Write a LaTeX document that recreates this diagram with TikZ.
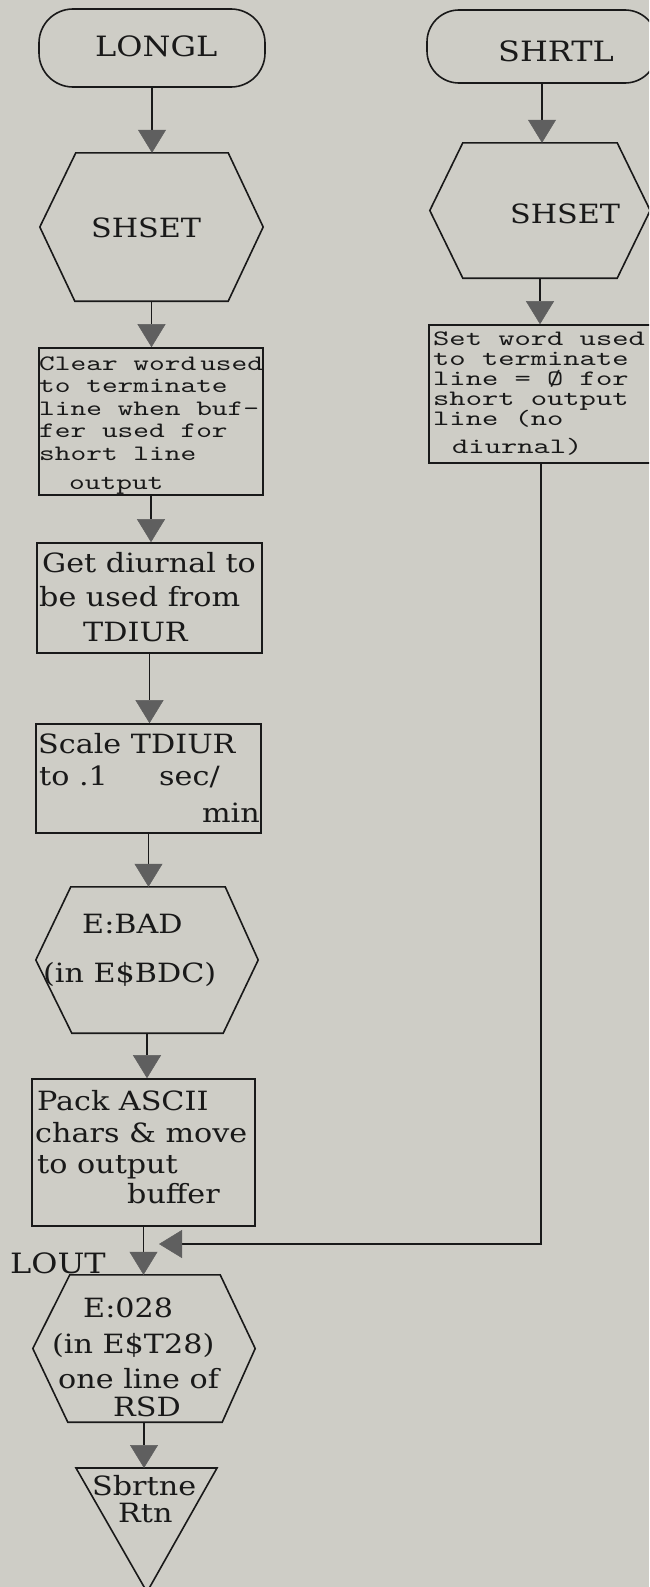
\documentclass[tikz,border=0pt]{standalone}
\usepackage{fontspec}
\usetikzlibrary{arrows.meta,calc}
\newfontfamily\serA[FakeStretch=1.14]{DejaVu Serif}
\newfontfamily\monA[FakeStretch=1.36]{lmmono10-regular.otf}
\newfontfamily\monB[FakeStretch=1.41]{lmmono10-regular.otf}
\definecolor{bgc}{RGB}{206,205,198}
\definecolor{arrowgray}{RGB}{95,95,95}
\definecolor{ink}{RGB}{25,25,25}
\begin{document}
\begin{tikzpicture}[x=1pt,y=-1pt,
  ln/.style={line width=1.6pt, draw=ink},
  flow/.style={line width=1.3pt, draw=ink, -{Triangle[width=28pt,length=23pt,color=arrowgray,line width=0.5pt]}},
  boxshape/.style={ln, rectangle, inner sep=0pt},
  hexhold/.style={inner sep=0pt},
  sr/.style={font=\serA\fontsize{26.5}{30}\selectfont, text=ink, inner sep=0pt, anchor=base west},
  srh/.style={font=\serA\fontsize{28}{30}\selectfont, text=ink, inner sep=0pt, anchor=base west},
  mA/.style={font=\monA\fontsize{22}{22}\selectfont, text=ink, inner sep=0pt, anchor=base west},
  mB/.style={font=\monB\fontsize{22}{22}\selectfont, text=ink, inner sep=0pt, anchor=base west}
]
\useasboundingbox (0,0) rectangle (649,1587);
\clip (0,0) rectangle (649,1587);
\fill[bgc] (0,0) rectangle (649,1587);

% ---------- left column ----------
\node[boxshape, minimum width=226pt, minimum height=78pt, rounded corners=34pt] (longl) at (152,48) {};
\node[srh] (longlT) at (95,57) {LONGL};

\node[hexhold, minimum width=223pt, minimum height=148pt] (sh1) at (151.5,227) {};
\draw[ln] ($(sh1.north west)+(36,0)$) -- ($(sh1.north east)+(-35,0)$) -- (sh1.east)
  -- ($(sh1.south east)+(-35,0)$) -- ($(sh1.south west)+(35,0)$) -- (sh1.west) -- cycle;
\node[sr] (sh1T) at (91,237) {SHSET};

\node[boxshape, minimum width=224pt, minimum height=147pt] (clr) at (151,421.5) {};
\node[mA] (clr1) at (39,370) {Clear word\kern4pt used};
\node[mA] (clr2) at (39,392.5) {to terminate};
\node[mA] (clr3) at (39,415) {line when buf-};
\node[mA] (clr4) at (39,437.5) {fer used for};
\node[mA] (clr5) at (39,460) {short line};
\node[mA] (clr6) at (69,489) {output};

\node[boxshape, minimum width=225pt, minimum height=110pt] (get) at (149.5,598) {};
\node[sr] (get1) at (42,572) {Get diurnal to};
\node[sr] (get2) at (39,606) {be used from};
\node[sr] (get3) at (83,641) {TDIUR};

\node[boxshape, minimum width=225pt, minimum height=109pt] (scl) at (148.5,778.5) {};
\node[sr] (scl1) at (38,753) {Scale TDIUR};
\node[sr] (scl2) at (39,785) {to .1};
\node[sr] (scl3) at (159,785) {sec/};
\node[sr, anchor=base east] (scl4) at (260,822) {min};

\node[hexhold, minimum width=222pt, minimum height=146pt] (ebad) at (147,960) {};
\draw[ln] ($(ebad.north west)+(35,0)$) -- ($(ebad.north east)+(-33,0)$) -- (ebad.east)
  -- ($(ebad.south east)+(-35,0)$) -- ($(ebad.south west)+(36,0)$) -- (ebad.west) -- cycle;
\node[sr] (ebad1) at (82,933) {E:BAD};
\node[sr] (ebad2) at (43,982) {(in E\$BDC)};

\node[boxshape, minimum width=223pt, minimum height=147pt] (pack) at (143.5,1152.5) {};
\node[sr] (pack1) at (37,1110) {Pack ASCII};
\node[sr] (pack2) at (35,1142) {chars \& move};
\node[sr] (pack3) at (37,1173) {to output};
\node[sr] (pack4) at (127,1203) {buffer};

\node[srh] (lout) at (10,1273) {LOUT};

\node[hexhold, minimum width=222pt, minimum height=147pt] (e28) at (144,1348.5) {};
\draw[ln] ($(e28.north west)+(37,0)$) -- ($(e28.north east)+(-35,0)$) -- (e28.east)
  -- ($(e28.south east)+(-33,0)$) -- ($(e28.south west)+(35,0)$) -- (e28.west) -- cycle;
\node[sr] (e281) at (83,1317) {E:028};
\node[sr] (e282) at (52,1353) {(in E\$T28)};
\node[sr] (e283) at (58,1388) {one line of};
\node[sr] (e284) at (113,1416) {RSD};

\coordinate (ret) at (146.5,1468);
\draw[ln] ($(ret)+(-70.5,0)$) -- ($(ret)+(70.5,0)$) -- ($(ret)+(0.5,124)$) -- cycle;
\node[sr] (ret1) at (92,1495) {Sbrtne};
\node[sr] (ret2) at (118,1522) {Rtn};

% ---------- right column ----------
\node[boxshape, minimum width=230pt, minimum height=73pt, rounded corners=32pt] (shrtl) at (542,46.5) {};
\node[srh] (shrtlT) at (498,62) {SHRTL};

\node[hexhold, minimum width=220pt, minimum height=135pt] (sh2) at (540,210.5) {};
\draw[ln] ($(sh2.north west)+(33,0)$) -- ($(sh2.north east)+(-33,0)$) -- (sh2.east)
  -- ($(sh2.south east)+(-33,0)$) -- ($(sh2.south west)+(33,0)$) -- (sh2.west) -- cycle;
\node[sr] (sh2T) at (510,223) {SHSET};

\node[boxshape, minimum width=224pt, minimum height=138pt] (set) at (541,394) {};
\node[mB] (set1) at (433,345) {Set word used};
\node[mB] (set2) at (433,365) {to terminate};
\node[mB] (set3) at (433,385) {line = Ø for};
\node[mB] (set4) at (433,405) {short output};
\node[mB] (set5) at (433,425) {line (no};
\node[mB] (set6) at (452,453) {diurnal)};

% ---------- connectors ----------
\draw[flow] (longl.south) -- (longl.south |- sh1.north);
\draw[flow] (sh1.south) -- (sh1.south |- clr.north);
\draw[flow] (clr.south) -- (clr.south |- get.north);
\draw[flow] (get.south) -- (get.south |- scl.north);
\draw[flow] (scl.south) -- (scl.south |- ebad.north);
\draw[flow] (ebad.south) -- (ebad.south |- pack.north);
\draw[flow] (pack.south) -- (pack.south |- e28.north);
\draw[flow] (e28.south) -- (e28.south |- ret);
\draw[flow] (shrtl.south) -- (shrtl.south |- sh2.north);
\draw[flow] (sh2.south) -- (sh2.south |- set.north);
\coordinate (merge) at (159,1244);
\draw[flow] (set.south) -- (set.south |- merge) -- (merge);
\end{tikzpicture}
\end{document}
